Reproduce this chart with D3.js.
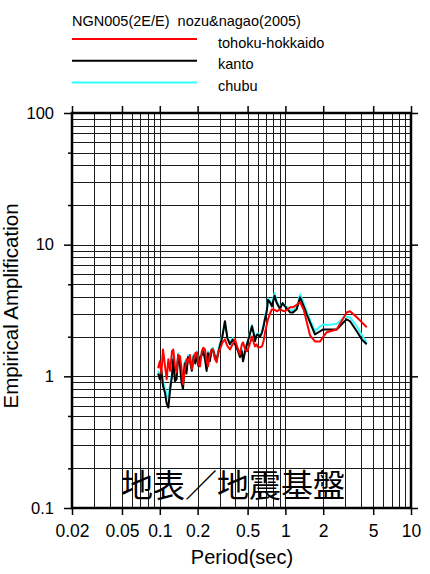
<!DOCTYPE html>
<html>
<head>
<meta charset="utf-8">
<script src="https://cdn.jsdelivr.net/npm/d3@7"></script>
<style>
  body { margin: 0; background: #fff; }
  svg { font-family: "Liberation Sans", Arial, sans-serif; }
</style>
</head>
<body>
<svg width="430" height="574"></svg>
<script>
// periods (sec) and amplification
const periods = [0.097,0.100,0.103,0.106,0.110,0.1135,0.117,0.121,0.125,0.128,0.132,0.136,0.140,0.145,0.149,0.153,0.158,0.163,0.168,0.174,0.180,0.186,0.192,0.197,0.203,0.209,0.216,0.222,0.229,0.236,0.242,0.250,0.258,0.265,0.275,0.284,0.292,0.301,0.315,0.330,0.345,0.362,0.380,0.397,0.415,0.435,0.450,0.460,0.478,0.495,0.515,0.542,0.560,0.573,0.590,0.605,0.630,0.652,0.670,0.689,0.710,0.727,0.754,0.782,0.82,0.853,0.906,0.95,0.993,1.05,1.089,1.15,1.23,1.31,1.40,1.48,1.57,1.72,1.89,2.00,2.13,2.56,2.88,3.08,3.27,3.70,4.07,4.44];

const tohoku = [1.15,1.30,1.05,1.60,1.20,0.95,1.35,1.10,1.55,1.60,1.20,1.07,1.45,1.42,1.15,0.87,1.10,1.35,1.28,1.45,1.13,1.35,1.50,1.52,1.25,1.19,1.55,1.65,1.60,1.30,1.19,1.45,1.60,1.60,1.35,1.28,1.55,1.60,1.80,1.91,1.70,1.60,1.75,1.91,1.65,1.47,1.75,1.81,1.60,1.55,1.70,2.01,1.80,1.69,1.75,1.66,1.66,1.69,1.85,2.16,2.45,2.71,3.00,3.23,3.20,3.12,3.23,3.15,3.12,3.25,3.34,3.34,3.50,3.65,3.20,2.57,2.05,1.84,1.84,2.00,2.16,2.27,2.75,3.06,3.12,2.81,2.57,2.36];

const kanto = [1.05,0.95,1.10,0.85,0.75,0.62,0.58,0.80,1.00,1.35,0.92,0.95,1.45,1.20,0.90,0.80,1.25,1.05,1.40,1.30,1.10,1.42,1.25,1.50,1.20,1.40,1.45,1.55,1.35,1.10,1.50,1.30,1.55,1.60,1.40,1.35,1.50,1.70,2.00,2.62,1.95,1.75,1.90,1.75,1.60,1.40,1.55,1.30,1.55,1.75,2.00,2.40,2.10,1.85,2.05,2.08,2.00,2.16,2.40,2.75,3.10,3.80,3.65,3.40,4.10,3.60,3.25,3.60,3.40,3.20,3.06,3.06,3.23,3.98,3.40,2.95,2.57,2.08,2.20,2.27,2.27,2.27,2.55,2.71,2.62,2.20,1.90,1.75];

const chubu = [1.10,1.00,1.15,0.92,0.82,0.70,0.68,0.88,1.05,1.40,0.98,1.00,1.50,1.25,0.95,0.85,1.30,1.10,1.45,1.35,1.15,1.47,1.30,1.55,1.25,1.45,1.50,1.60,1.40,1.15,1.55,1.35,1.60,1.65,1.45,1.40,1.55,1.80,2.05,2.60,2.00,1.80,1.95,1.80,1.65,1.45,1.60,1.35,1.60,1.80,2.05,2.45,2.15,1.90,2.10,2.12,2.05,2.20,2.45,2.85,3.20,3.90,3.75,3.50,4.30,3.70,3.35,3.55,3.45,3.30,3.20,3.15,3.35,4.20,3.60,3.10,2.70,2.20,2.40,2.48,2.45,2.50,2.75,2.85,2.80,2.40,2.05,1.80];

const xTicks = [0.02,0.05,0.1,0.2,0.5,1,2,5,10];
const yTicks = [0.1,1,10,100];
const yMinorTicks = [0.2,0.5,2,5,20,50];

const series = [
  {name: 'chubu', values: chubu, color: '#33ffff'},
  {name: 'kanto', values: kanto, color: '#000000'},
  {name: 'tohoku-hokkaido', values: tohoku, color: '#ff0000'}
];
const legendOrder = ['tohoku-hokkaido','kanto','chubu'];

const svg = d3.select('svg');
const plotL = 72, plotR = 411, plotT = 113, plotB = 508;

const x = d3.scaleLog().domain([0.02, 10]).range([plotL, plotR]);
const y = d3.scaleLog().domain([0.1, 100]).range([plotB, plotT]);

// grid values 1..9 per decade
const gridX = [];
for (let e = -2; e <= 0; e++) for (let m = 1; m <= 9; m++) {
  const v = m * Math.pow(10, e);
  if (v > 0.02 && v < 10) gridX.push(v);
}
const gridY = [];
for (let e = -1; e <= 1; e++) for (let m = 1; m <= 9; m++) {
  const v = m * Math.pow(10, e);
  if (v > 0.1 && v < 100) gridY.push(v);
}

const grid = svg.append('g').attr('stroke', '#1a1a1a').attr('stroke-width', 1);
grid.selectAll('line.gx').data(gridX).enter().append('line')
  .attr('x1', d => Math.round(x(d)) + 0.5).attr('x2', d => Math.round(x(d)) + 0.5)
  .attr('y1', plotT).attr('y2', plotB);
grid.selectAll('line.gy').data(gridY).enter().append('line')
  .attr('y1', d => Math.round(y(d)) + 0.5).attr('y2', d => Math.round(y(d)) + 0.5)
  .attr('x1', plotL).attr('x2', plotR);

// axes (ticks on all four sides, outward)
const fmt = d => String(d);
svg.append('g').attr('transform', `translate(0,${plotB})`)
  .call(d3.axisBottom(x).tickValues(xTicks).tickFormat(fmt).tickSize(7).tickPadding(10))
  .call(g => g.select('.domain').remove())
  .call(g => g.selectAll('text').attr('font-size', 17.5).attr('font-family', '"Liberation Sans", Arial'));
svg.append('g').attr('transform', `translate(0,${plotT})`)
  .call(d3.axisTop(x).tickValues(xTicks).tickFormat('').tickSize(7))
  .call(g => g.select('.domain').remove());
svg.append('g').attr('transform', `translate(${plotL},0)`)
  .call(d3.axisLeft(y).tickValues(yTicks).tickFormat(fmt).tickSize(8).tickPadding(10))
  .call(g => g.select('.domain').remove())
  .call(g => g.selectAll('text').attr('font-size', 16.5).attr('font-family', '"Liberation Sans", Arial'));
svg.append('g').attr('transform', `translate(${plotL},0)`)
  .call(d3.axisLeft(y).tickValues(yMinorTicks).tickFormat('').tickSize(4))
  .call(g => g.select('.domain').remove());
svg.append('g').attr('transform', `translate(${plotR},0)`)
  .call(d3.axisRight(y).tickValues(yTicks).tickFormat('').tickSize(7))
  .call(g => g.select('.domain').remove());
svg.selectAll('.tick line').attr('stroke', '#000').attr('stroke-width', 1.5);

// curves
const line = d3.line()
  .x((d, i) => x(periods[i]))
  .y(d => y(d));
svg.append('g').selectAll('path').data(series).enter().append('path')
  .attr('d', d => line(d.values))
  .attr('fill', 'none')
  .attr('stroke', d => d.color)
  .attr('stroke-width', 2)
  .attr('stroke-linejoin', 'round');

// frame
svg.append('rect')
  .attr('x', plotL).attr('y', plotT)
  .attr('width', plotR - plotL).attr('height', plotB - plotT)
  .attr('fill', 'none').attr('stroke', '#000').attr('stroke-width', 2.5);

// japanese label inside the plot
svg.append('text')
  .attr('x', 233).attr('y', 497)
  .attr('text-anchor', 'middle')
  .attr('font-family', '"Noto Sans CJK JP", sans-serif')
  .attr('font-size', 32)
  .attr('fill', '#000')
  .text('地表／地震基盤');

// axis titles
svg.append('text')
  .attr('x', 242).attr('y', 564)
  .attr('text-anchor', 'middle')
  .attr('font-size', 20)
  .text('Period(sec)');
svg.append('text')
  .attr('transform', 'translate(17.5,306) rotate(-90)')
  .attr('text-anchor', 'middle')
  .attr('font-size', 20.5)
  .text('Empirical Amplification');

// title and legend
svg.append('text')
  .attr('x', 72).attr('y', 26)
  .attr('font-size', 14.5)
  .attr('xml:space', 'preserve')
  .text('NGN005(2E/E)  nozu&nagao(2005)');

const legend = svg.append('g').selectAll('g')
  .data(legendOrder.map(n => series.find(s => s.name === n)))
  .enter().append('g')
  .attr('transform', (d, i) => `translate(0,${39 + i * 21.7})`);
legend.append('line')
  .attr('x1', 72).attr('x2', 197)
  .attr('stroke', d => d.color).attr('stroke-width', 2);
legend.append('text')
  .attr('x', 218).attr('y', 8.5)
  .attr('font-size', 14.5)
  .text(d => d.name);
</script>
</body>
</html>
